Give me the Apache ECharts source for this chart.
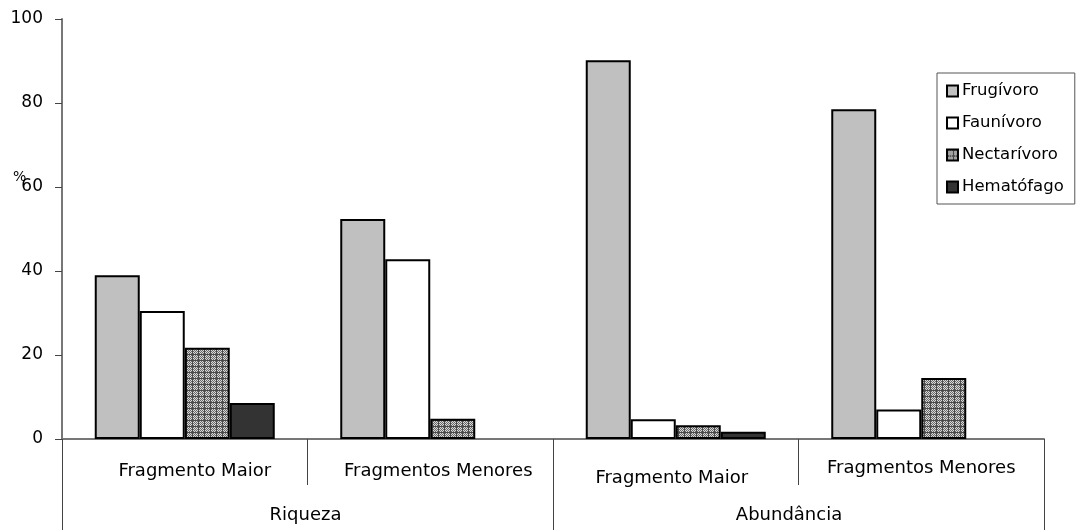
<!DOCTYPE html>
<html>
<head>
<meta charset="utf-8">
<script src="https://cdn.jsdelivr.net/npm/echarts@6/dist/echarts.min.js"></script>
<style>
  html, body { margin: 0; padding: 0; background: #ffffff; }
  #chart { width: 1076px; height: 530px; }
</style>
</head>
<body>
<div id="chart"></div>
<script>
// Feeding guilds of bats: species richness and abundance (%) by fragment size
const fragments = ['Fragmento Maior', 'Fragmentos Menores', 'Fragmento Maior', 'Fragmentos Menores'];
const measures = ['Riqueza', 'Abundância'];
const yTicks = [0, 20, 40, 60, 80, 100];

const frugivoro   = [39.0, 52.4, 90.2, 78.5];
const faunivoro   = [30.5, 42.8, 4.7, 7.0];
const nectarivoro = [21.7, 4.8, 3.3, 14.5];
const hematofago  = [8.6, 0, 1.7, 0];

const FONT = 'DejaVu Sans';

// Small tiled texture for the nectarivore bars: dark grid with a dithered fill
function makeHatch() {
  const c = document.createElement('canvas');
  c.width = 6; c.height = 6;
  const g = c.getContext('2d');
  g.fillStyle = '#d8d8d8';
  g.fillRect(0, 0, 6, 6);
  for (let y = 0; y < 6; y++) {
    for (let x = 0; x < 6; x++) {
      if ((x + y) % 2 === 0) { g.fillStyle = '#6a6a6a'; g.fillRect(x, y, 1, 1); }
    }
  }
  g.fillStyle = '#4a4a4a';
  g.fillRect(0, 0, 6, 1);
  g.fillRect(0, 0, 1, 6);
  return c;
}
const hatch = { image: makeHatch(), repeat: 'repeat' };

const chart = echarts.init(document.getElementById('chart'), null, { renderer: 'canvas' });

const axisGray = '#777777';
const tickGray = '#444444';

function barSeries(name, values, fill) {
  return {
    name: name,
    type: 'bar',
    xAxisIndex: 0,
    barWidth: 45,
    barGap: '0%',
    data: values.map(v => (v === 0 ? '-' : v)),
    itemStyle: { color: fill, borderColor: '#000000', borderWidth: 2 },
    emphasis: { disabled: true },
    animation: false
  };
}

// Per-label nudges for the fragment captions
const fragRich = {
  c0: { padding: [3, 0, 0, 20] },
  c1: { padding: [3, 0, 0, 16] },
  c2: { padding: [10, 8, 0, 0] },
  c3: { padding: [0, 0, 0, 0] }
};
const groupRich = {
  g0: { padding: [0, 4, 0, 0] },
  g1: { padding: [0, 19, 0, 0] }
};
Object.values(fragRich).forEach(s => { s.fontFamily = FONT; s.fontSize = 18; s.color = '#000000'; });
Object.values(groupRich).forEach(s => { s.fontFamily = FONT; s.fontSize = 18; s.color = '#000000'; });

chart.setOption({
  backgroundColor: '#ffffff',
  animation: false,
  grid: { left: 62, right: 32, top: 19, bottom: 91, containLabel: false },
  legend: {
    orient: 'vertical',
    left: 937,
    top: 73,
    padding: [9, 11, 8, 9],
    borderColor: '#555555',
    borderWidth: 1,
    itemWidth: 11,
    itemHeight: 11,
    itemGap: 14,
    icon: 'rect',
    textStyle: { fontFamily: FONT, fontSize: 16.5, color: '#000000', lineHeight: 18, padding: [0, 0, 0, -1] },
    data: ['Frugívoro', 'Faunívoro', 'Nectarívoro', 'Hematófago']
  },
  xAxis: [
    {
      type: 'category',
      data: fragments,
      position: 'bottom',
      boundaryGap: true,
      axisLine: { show: true, lineStyle: { color: axisGray, width: 2 } },
      axisTick: { show: true, length: 46, lineStyle: { color: tickGray, width: 1 } },
      axisLabel: {
        margin: 20, interval: 0,
        formatter: (value, index) => '{c' + index + '|' + value + '}',
        rich: fragRich
      },
      splitLine: { show: false }
    },
    {
      type: 'category',
      data: measures,
      position: 'bottom',
      boundaryGap: true,
      axisLine: { show: false },
      axisTick: { show: true, length: 91, lineStyle: { color: tickGray, width: 1 } },
      axisLabel: {
        margin: 67, interval: 0,
        formatter: (value, index) => '{g' + index + '|' + value + '}',
        rich: groupRich
      },
      splitLine: { show: false }
    }
  ],
  yAxis: {
    type: 'value',
    min: yTicks[0],
    max: yTicks[yTicks.length - 1],
    interval: yTicks[1] - yTicks[0],
    axisLine: { show: true, lineStyle: { color: axisGray, width: 2 } },
    axisTick: { show: true, length: 7, lineStyle: { color: tickGray, width: 1 } },
    axisLabel: { fontFamily: FONT, fontSize: 17, color: '#000000', margin: 19 },
    splitLine: { show: false }
  },
  graphic: [
    {
      type: 'text',
      left: 13,
      top: 170,
      style: { text: '%', fontFamily: FONT, fontSize: 14, fill: '#000000' }
    }
  ],
  series: [
    barSeries('Frugívoro', frugivoro, '#c0c0c0'),
    barSeries('Faunívoro', faunivoro, '#ffffff'),
    barSeries('Nectarívoro', nectarivoro, hatch),
    barSeries('Hematófago', hematofago, '#333333')
  ]
});
</script>
</body>
</html>
